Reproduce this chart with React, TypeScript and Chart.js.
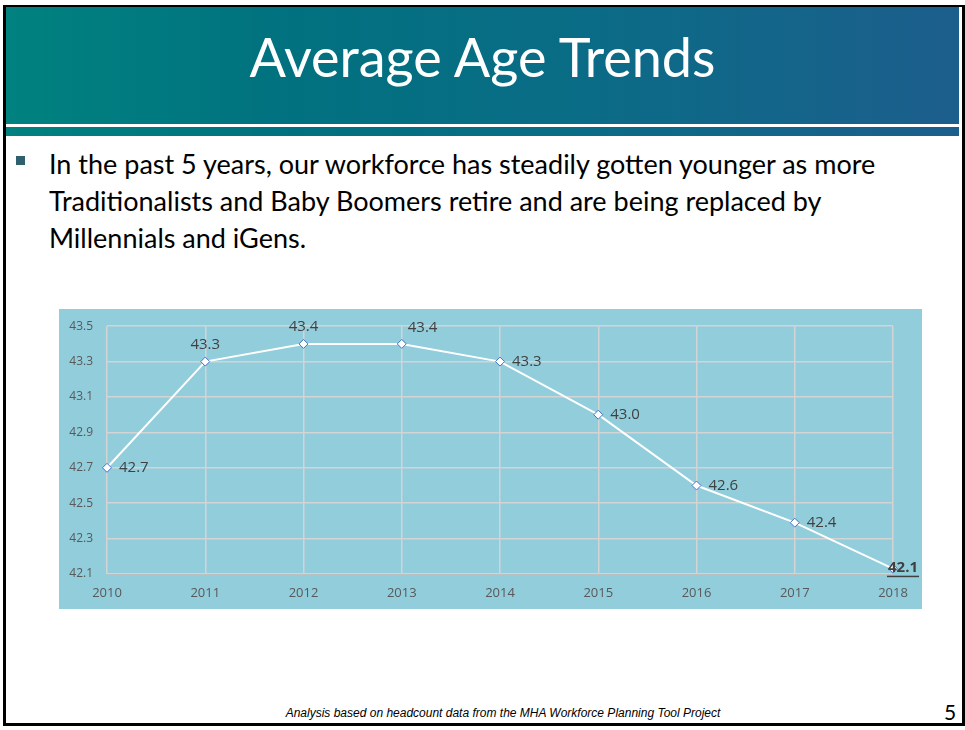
import React, { useEffect, useRef } from "react";
import { Chart, registerables } from "chart.js";

Chart.register(...registerables);

const years = ["2010", "2011", "2012", "2013", "2014", "2015", "2016", "2017", "2018"];
const avgAge = [42.7, 43.3, 43.4, 43.4, 43.3, 43.0, 42.6, 42.39, 42.13];
const yMin = 42.1;
const yMax = 43.5;
const yStep = 0.2;

const labelPlacement = ["right", "above", "above", "aboveRight", "right", "right", "right", "right", "center"];

const labelPlugin = {
  id: "pointLabels",
  afterDatasetsDraw(chart: any) {
    const ctx = chart.ctx;
    const meta = chart.getDatasetMeta(0);
    ctx.save();
    meta.data.forEach((pt: any, i: number) => {
      const v = avgAge[i];
      const text = v.toFixed(1);
      const place = labelPlacement[i];
      let x = pt.x;
      let y = pt.y;
      ctx.fillStyle = "#404040";
      ctx.textBaseline = "middle";
      if (place === "center") {
        ctx.font = "bold 15px 'Open Sans', sans-serif";
        ctx.textAlign = "center";
        x = pt.x + 10;
        y = pt.y - 1;
        ctx.fillText(text, x, y);
        const w = ctx.measureText(text).width;
        ctx.fillRect(x - w / 2 - 1, y + 8, w + 2, 1.5);
        return;
      }
      ctx.font = "15px 'Open Sans', sans-serif";
      if (place === "right") {
        ctx.textAlign = "left";
        x = pt.x + 12;
      } else if (place === "above") {
        ctx.textAlign = "center";
        y = pt.y - 17;
      } else if (place === "aboveRight") {
        ctx.textAlign = "left";
        x = pt.x + 6;
        y = pt.y - 16;
      }
      ctx.fillText(text, x, y);
    });
    ctx.restore();
  },
};

function AgeChart() {
  const ref = useRef<HTMLCanvasElement>(null);
  useEffect(() => {
    if (!ref.current) return;
    const chart = new Chart(ref.current, {
      type: "line",
      data: {
        labels: years,
        datasets: [
          {
            data: avgAge,
            borderColor: "#FFFFFF",
            borderWidth: 2,
            pointStyle: "rectRot",
            pointRadius: 4.5,
            pointBackgroundColor: "#FFFFFF",
            pointBorderColor: "#4472C4",
            pointBorderWidth: 1,
            tension: 0,
          },
        ],
      },
      options: {
        animation: false,
        responsive: false,
        maintainAspectRatio: false,
        layout: { padding: { top: 12, right: 29, left: 0, bottom: 0 } },
        plugins: { legend: { display: false }, tooltip: { enabled: false } },
        scales: {
          x: {
            offset: false,
            grid: { color: "#D4D4D4", lineWidth: 1.5, drawTicks: false },
            border: { color: "#BFBFBF" },
            ticks: {
              color: "#595959",
              font: { size: 13, family: "'Open Sans', sans-serif" },
              padding: 11,
              maxRotation: 0,
            },
            afterFit: (s: any) => {
              s.height = 36;
            },
          },
          y: {
            min: yMin,
            max: yMax,
            grid: { color: "#D4D4D4", lineWidth: 1.5, drawTicks: false },
            border: { display: false },
            ticks: {
              stepSize: yStep,
              color: "#595959",
              font: { size: 12, family: "'Open Sans', sans-serif" },
              padding: 14,
              callback: (v: any) => Number(v).toFixed(1),
            },
            afterFit: (s: any) => {
              s.width = 48;
            },
          },
        },
      },
      plugins: [labelPlugin],
    });
    return () => chart.destroy();
  }, []);
  return (
    <canvas
      ref={ref}
      width={863}
      height={305}
      style={{ display: "block", position: "absolute", left: 0, top: -4 }}
    />
  );
}

export default function App() {
  return (
    <div
      style={{
        position: "absolute",
        left: 0,
        top: 0,
        width: 965,
        height: 730,
        background: "#FFFFFF",
        overflow: "hidden",
        fontFamily: "Lato, sans-serif",
      }}
    >
      {/* slide frame */}
      <div
        style={{
          position: "absolute",
          left: 3,
          top: 5,
          width: 956,
          height: 716,
          border: "3px solid #000",
          borderTopWidth: 2,
          boxSizing: "content-box",
        }}
      />
      {/* header */}
      <div
        style={{
          position: "absolute",
          left: 6,
          top: 7,
          width: 953,
          height: 129,
          background: "linear-gradient(90deg, #00827F 0%, #01717F 30%, #0A6C86 60%, #1C5E8C 100%)",
        }}
      />
      <div style={{ position: "absolute", left: 6, top: 124, width: 953, height: 3, background: "#FFFFFF" }} />
      <div
        style={{
          position: "absolute",
          left: 6,
          top: 5,
          width: 953,
          height: 102,
          color: "#FFFFFF",
          fontSize: 54,
          fontFamily: "Lato, sans-serif",
          display: "flex",
          alignItems: "center",
          justifyContent: "center",
        }}
      >
        Average Age Trends
      </div>
      {/* bullet */}
      <div style={{ position: "absolute", left: 16, top: 156, width: 9, height: 9, background: "#2E6070" }} />
      <div
        style={{
          position: "absolute",
          left: 49,
          top: 145,
          width: 900,
          fontSize: 27,
          lineHeight: "37px",
          color: "#000",
          fontFamily: "Lato, sans-serif",
          whiteSpace: "nowrap",
        }}
      >
        In the past 5 years, our workforce has steadily gotten younger as more
        <br />
        Traditionalists and Baby Boomers retire and are being replaced by
        <br />
        Millennials and iGens.
      </div>
      {/* chart panel */}
      <div
        style={{
          position: "absolute",
          left: 59,
          top: 309,
          width: 863,
          height: 300,
          background: "#92CDDC",
          overflow: "hidden",
        }}
      >
        <AgeChart />
      </div>
      {/* footer */}
      <div
        style={{
          position: "absolute",
          left: 200,
          top: 706,
          width: 606,
          textAlign: "center",
          fontSize: 12,
          fontStyle: "italic",
          fontFamily: "'Liberation Sans', Arial, sans-serif",
          color: "#000",
        }}
      >
        Analysis based on headcount data from the MHA Workforce Planning Tool Project
      </div>
      <div
        style={{
          position: "absolute",
          left: 944,
          top: 699,
          fontSize: 21,
          fontFamily: "Lato, sans-serif",
          color: "#000",
        }}
      >
        5
      </div>
    </div>
  );
}
